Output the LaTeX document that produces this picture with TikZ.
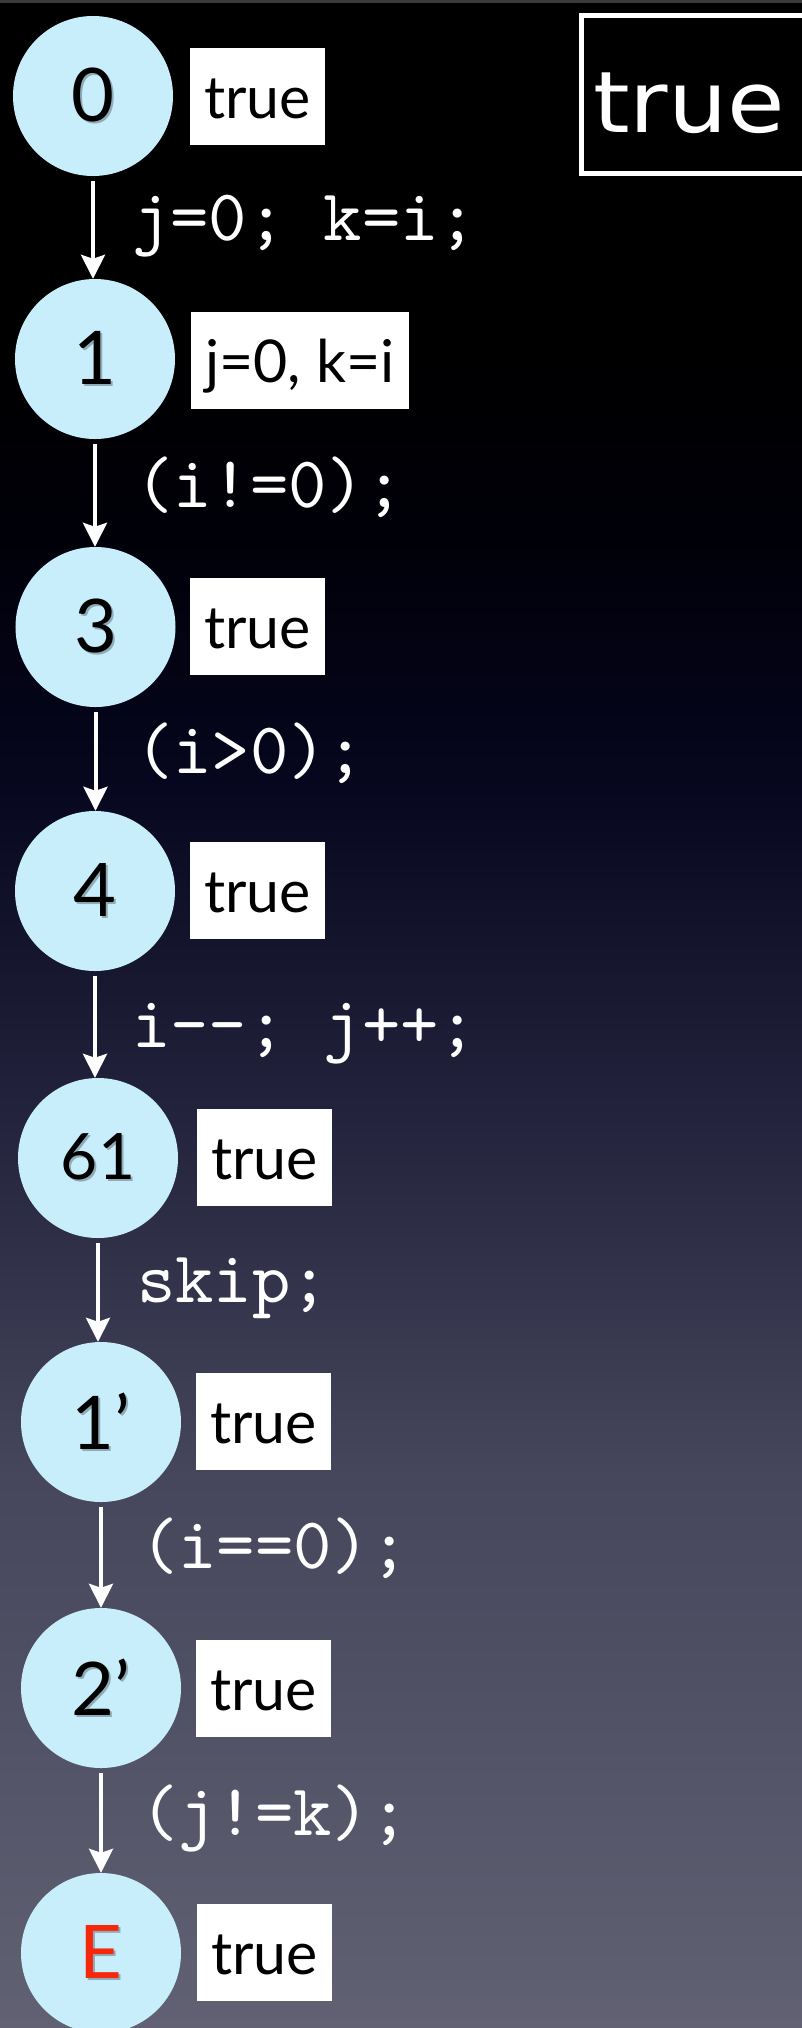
\documentclass[tikz,border=0pt]{standalone}
\usepackage{fontspec}
\usetikzlibrary{arrows.meta}

\newfontfamily\latofont{Lato}
\newfontfamily\dejavufont{DejaVu Sans}[FakeStretch=1.1]
\newfontfamily\codefont{lmmono10-regular}[Extension=.otf]

\definecolor{nodefill}{RGB}{200,238,251}
\definecolor{endred}{RGB}{246,40,12}
\definecolor{topline}{RGB}{58,58,58}
\definecolor{bgA}{RGB}{97,97,115}
\definecolor{bgB}{RGB}{70,70,92}
\definecolor{bgC}{RGB}{36,36,62}
\definecolor{bgD}{RGB}{6,6,30}
\definecolor{bgE}{RGB}{0,0,8}
\colorlet{labelshadow}{nodefill!72!black}

% slide background: slate at the bottom fading to black at the top
\pgfdeclareverticalshading{slidebg}{100bp}{%
  color(0bp)=(bgA); color(25bp)=(bgA); color(38.56bp)=(bgB);
  color(47.19bp)=(bgC); color(55.82bp)=(bgD); color(61.98bp)=(bgE);
  color(66.86bp)=(black); color(100bp)=(black)}

% node number with a soft drop shadow
\newcommand\shadowed[2]{%
  \makebox[0pt][l]{\hspace*{2bp}\raisebox{-2.5bp}{\textcolor{labelshadow}{#2}}}%
  \textcolor{#1}{#2}}

\tikzset{
  state/.style={circle, fill=nodefill, inner sep=0pt, minimum size=160bp,
    font=\latofont\fontsize{74bp}{80bp}\selectfont},
  smallstate/.style={state, font=\latofont\fontsize{64bp}{70bp}\selectfont},
  assertion/.style={fill=white, text=black, inner xsep=14bp, inner ysep=0pt,
    text height=70bp, text depth=27bp, anchor=base west,
    font=\latofont\fontsize{59bp}{64bp}\selectfont},
  stmt/.style={text=white, inner sep=0pt, anchor=base west,
    font=\codefont\fontsize{73bp}{80bp}\selectfont},
  flow/.style={draw=white, line width=4bp, shorten <=5bp,
    -{Stealth[length=24bp, width=24bp, inset=4bp]}},
}

\begin{document}
\begin{tikzpicture}[x=1bp, y=-1bp]
  \useasboundingbox (0,0) rectangle (802,2028);
  \clip (0,0) rectangle (802,2028);
  \shade[shading=slidebg] (0,0) rectangle (802,2028);
  \fill[topline] (0,0) rectangle (802,2.5);

  % overall invariant, framed in the upper right corner
  \draw[white, line width=5bp, fill=black] (581.5,15.5) rectangle (830,173.5);
  \node[text=white, inner sep=0pt, anchor=base west,
    font=\dejavufont\fontsize{85bp}{90bp}\selectfont] (inv) at (593,132) {true};

  % locations of the path
  \node[state] (n0)  at (93,96)    {\shadowed{black}{0}};
  \node[state] (n1)  at (95,359)   {\shadowed{black}{1}};
  \node[state] (n3)  at (95.5,627) {\shadowed{black}{3}};
  \node[state] (n4)  at (95,891)   {\shadowed{black}{4}};
  \node[smallstate] (n61) at (98,1158) {\shadowed{black}{61}};
  \node[state] (n1p) at (101,1422) {\shadowed{black}{1’}};
  \node[state] (n2p) at (101,1688) {\shadowed{black}{2’}};
  \node[state] (nE)  at (101,1953) {\shadowed{endred}{E}};

  % assertions at each location
  \node[assertion] (a0)  at (190,118)  {true};
  \node[assertion] (a1)  at (191,382)  {j=0, k=i};
  \node[assertion] (a3)  at (190,648)  {true};
  \node[assertion] (a4)  at (190,912)  {true};
  \node[assertion] (a61) at (197,1179) {true};
  \node[assertion] (a1p) at (196,1443) {true};
  \node[assertion] (a2p) at (196,1710) {true};
  \node[assertion] (aE)  at (197,1974) {true};

  % transitions
  \draw[flow] (n0.south)  -- (n0.south  |- n1.north);
  \draw[flow] (n1.south)  -- (n1.south  |- n3.north);
  \draw[flow] (n3.south)  -- (n3.south  |- n4.north);
  \draw[flow] (n4.south)  -- (n4.south  |- n61.north);
  \draw[flow] (n61.south) -- (n61.south |- n1p.north);
  \draw[flow] (n1p.south) -- (n1p.south |- n2p.north);
  \draw[flow] (n2p.south) -- (n2p.south |- nE.north);

  % statements on the transitions
  \node[stmt] (s01)   at (132,240)  {j=0; k=i;};
  \node[stmt] (s13)   at (135,507)  {(i!=0);};
  \node[stmt] (s34)   at (135,773)  {(i>0);};
  \node[stmt] (s461)  at (132,1047) {i-\kern0pt-; j++;};
  \node[stmt] (s611p) at (137,1302) {skip;};
  \node[stmt] (s1p2p) at (140,1568) {(i==0);};
  \node[stmt] (s2pE)  at (140,1835) {(j!=k);};
\end{tikzpicture}
\end{document}
